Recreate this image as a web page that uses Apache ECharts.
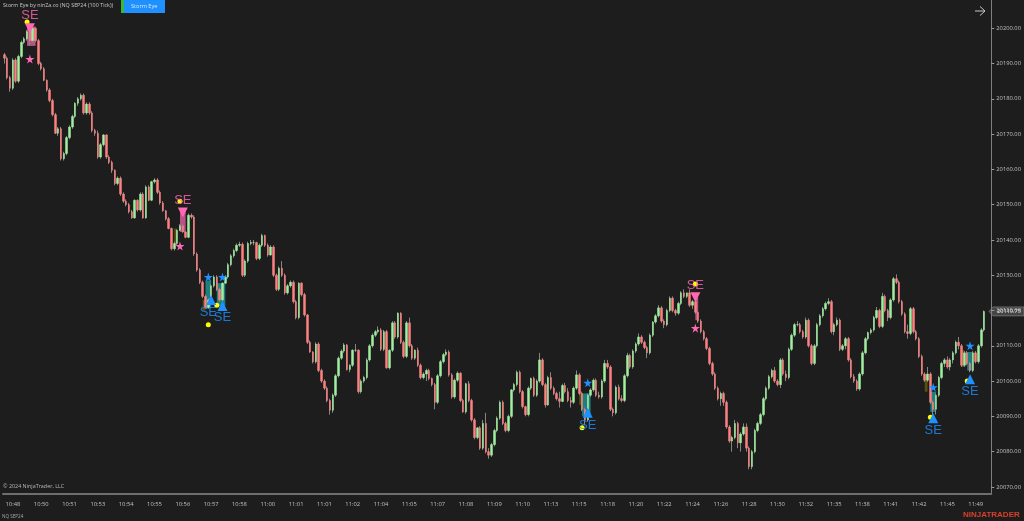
<!DOCTYPE html>
<html>
<head>
<meta charset="utf-8">
<script src="https://cdn.jsdelivr.net/npm/echarts@6/dist/echarts.min.js"></script>
<style>
  html, body { margin: 0; padding: 0; background: #1d1d1d; }
  #chart { width: 1024px; height: 521px; }
</style>
</head>
<body>
<div id="chart"></div>
<script>
// prices are stored minus 20000, one row = 10 bars (one time label)
const priceBase = 20000;

const opens = [
  192.5,191.5,186,183,191,185,192,196,197,199,
  196.5,200,196.5,190,188.5,185.25,182.5,179.5,175.5,170.25,
  171.5,163,164.5,169,172,175,178.75,180,181,176,
  178.5,176,171,170.25,163.5,167,169.75,163.5,162,159.75,
  156,157.5,153,151,150,148,146.25,151.25,148.5,153,
  146.25,155,151.25,156.5,157,153.5,150.5,148.25,146,143.25,
  137.5,139,142.75,144,142.25,140.75,147,146.5,136,131.5,
  128,124,120.75,123,127,129.5,126,123,127.75,129.5,
  133,135.5,137,138.5,138.75,130,134,139,139.25,139.25,
  134.75,138.5,141.25,138.5,135.75,138,130,126,132,130,
  125,127,128,122.5,118,127.75,124.5,118.75,111,108.25,
  105.5,110.5,103,100,98,94.5,91.75,96,101.5,106.5,
  108.5,110.25,103.25,104.5,108.75,108.75,97,100,101,106,
  110,113,114,114.5,109,114,103.75,108.75,116.5,112.5,
  119.25,111,107,116.5,110,106.5,108.75,104.5,101,102,
  103,100.75,99,94,101.5,105.5,107.5,108.25,101.75,95.5,
  100.25,102.25,94.5,91.25,99.25,94.5,89,84,86.75,81,
  88,80,79,82,86,89.5,94,88,86,90,
  97.5,99,102.5,97,92.75,90.5,98,100.75,96,100,
  106,99,93.25,101,98,96.5,95,94.25,98.75,97,
  94.5,94,98,101.75,96.5,92,89,96,97.5,100.25,
  96,95.5,100,105,104,92,91,98.25,95,94.5,
  101.5,107.25,104,108.5,110.5,112.5,111,109.5,108,113,
  116.75,118.5,120.75,117,116,120,123.5,120,119.25,122,
  125,124,125,121.5,122.5,119.5,117,114,112,109.25,
  105,102,98,95,96.5,94,87,83,84,88,
  82.5,85,87,81,75.75,80,86,88,90.5,95,
  98,101.25,103,100,99,106,102,101,109,113,
  116,116,114,112.5,117.25,110,105,110,116,118.5,
  120.5,122,122.5,114,116,117.25,109,110,112,106,
  101.25,100,97.75,102,108,112,113.75,114.5,118,120,
  115.5,124,120,118,123,129,128,122.5,119,114,
  113.5,120.5,114,112,107,102,100.25,102,94,92,
  96,101,105,106,104,106,108,111,110,104.5,
  108,105,103,108,105.5,110,114.5
];
const closes = [
  191.5,186,183,191,185,192,196,197,199,196.5,
  200,196.5,190,188.5,185.25,182.5,179.5,175.5,170.25,171.5,
  163,164.5,169,172,175,178.75,180,181,176,178.5,
  176,171,170.25,163.5,167,169.75,163.5,162,159.75,156,
  157.5,153,151,150,148,146.25,151.25,148.5,153,146.25,
  155,151.25,156.5,157,153.5,150.5,148.25,146,143.25,137.5,
  139,142.75,144,142.25,140.75,147,146.5,136,131.5,128,
  124,120.75,123,127,129.5,126,123,127.75,129.5,133,
  135.5,137,138.5,138.75,130,134,139,139.25,139.25,134.75,
  138.5,141.25,138.5,135.75,138,130,126,132,130,125,
  127,128,122.5,118,127.75,124.5,118.75,111,108.25,105.5,
  110.5,103,100,98,94.5,91.75,96,101.5,106.5,108.5,
  110.25,103.25,104.5,108.75,108.75,97,100,101,106,110,
  113,114,114.5,109,114,103.75,108.75,116.5,112.5,119.25,
  111,107,116.5,110,106.5,108.75,104.5,101,102,103,
  100.75,99,94,101.5,105.5,107.5,108.25,101.75,95.5,100.25,
  102.25,94.5,91.25,99.25,94.5,89,84,86.75,81,88,
  80,79,82,86,89.5,94,88,86,90,97.5,
  99,102.5,97,92.75,90.5,98,100.75,96,100,106,
  99,93.25,101,98,96.5,95,94.25,98.75,97,94.5,
  94,98,101.75,96.5,92,89,96,97.5,100.25,96,
  95.5,100,105,104,92,91,98.25,95,94.5,101.5,
  107.25,104,108.5,110.5,112.5,111,109.5,108,113,116.75,
  118.5,120.75,117,116,120,123.5,120,119.25,122,125,
  124,125,121.5,122.5,119.5,117,114,112,109.25,105,
  102,98,95,96.5,94,87,83,84,88,82.5,
  85,87,81,75.75,80,86,88,90.5,95,98,
  101.25,103,100,99,106,102,101,109,113,116,
  116,114,112.5,117.25,110,105,110,116,118.5,120.5,
  122,122.5,114,116,117.25,109,110,112,106,101.25,
  100,97.75,102,108,112,113.75,114.5,118,120,115.5,
  124,120,118,123,129,128,122.5,119,114,113.5,
  120.5,114,112,107,102,100.25,102,94,92,96,
  101,105,106,104,106,108,111,110,104.5,108,
  105,103,108,105.5,110,114.5,119.75
];
const highs = [
  193,192,186.5,191.5,191.5,192.5,196.5,197.5,199.5,199.5,
  200.5,200.25,197,190.5,189,185.5,183,180,176,172,
  172,165,169.5,172.5,175.5,179,180.5,181.5,181.5,179,
  179,176.5,171.5,171,167.5,170,170,164,162.5,160,
  158,158,153.5,151.5,150.5,148.5,151.5,151.5,153.5,153.5,
  155.5,155.5,156.75,157.5,157.5,154,151,148.5,146.5,143.5,
  139.5,143,144.5,144.5,142.5,147.5,147.5,147,136.5,132,
  128.5,124.5,123.5,127.5,130,130,126.5,128,130,133.5,
  136,137.5,139,139.5,139.25,134.5,139.5,140,140,139.5,
  139,141.75,141.5,139,138.5,138.5,130.5,132.5,134,130.5,
  127.5,128.5,128.5,123,128,128,125,119,111.5,108.5,
  111,111,103.5,100.5,98.5,95,96.5,102,107,109,
  110.75,110.5,104.75,109,110.5,109,100.5,101.5,106.5,110.5,
  113.5,114.5,115.5,115,114.5,114.5,109,117,117,119.5,
  119.5,111.5,117,118,110.5,109,109.5,105,102.5,103.5,
  103.5,101,99.5,102,106,108,109,108.75,102.25,100.75,
  102.75,102.5,95,99.5,100,95,89.5,87,87.25,89,
  91,81,82.5,86.5,90,94.5,94.5,88.5,90.5,97.75,
  99.5,103,103,97.5,93,98.5,101,101.25,100.5,108,
  106.5,99.5,101.5,102.5,98.5,97,97,99.25,99.5,98,
  95.5,98.5,103,102.25,97,92.5,96.5,98,100.75,100.75,
  97,100.5,106,106,104.5,92.5,98.75,99,96,102,
  108,107.75,109,111,113.5,113,111.5,110,113.5,117,
  119,121.5,121.25,117.5,120.5,124,124,120.5,122.5,125.5,
  126,125,126,123,123,120,117.5,114.5,112.5,109.75,
  105.5,102.5,98.5,97,97,94.5,87.5,84.5,89,88.5,
  85.5,88,88,81.5,80.5,86.5,88.5,91,95.5,98.5,
  101.75,103.5,104,100.5,106.5,106.5,103,109.5,113.5,116.5,
  117,116.5,114.5,118,117.75,110.5,110.5,116.5,119,121,
  122.5,123.5,123,116.5,118,117.75,110.5,112.5,112.5,106.5,
  102,100.5,102.5,108.5,112.5,114,115,118.5,121,120.5,
  125,124.5,120.5,123.5,129.5,130.25,128.5,123,119.5,116,
  121,121,114.5,112.5,107.5,102.5,104,102.5,94.5,96.5,
  101.5,105.5,106.5,107,106.5,108.5,111.5,112.5,110.5,108.5,
  108.5,105.5,108.5,108.5,110.5,115,120
];
const lows = [
  190,185.5,182,182.5,184.5,184.5,191.5,195.5,196.5,195,
  196,196,189.5,188,185,182,179,175,170,169.5,
  162.5,162.5,164,168.5,171.5,174.5,178,179.5,175.5,175.5,
  175.5,170.5,169.5,163,163,166.5,163,161.5,159,155.5,
  155.5,152.5,150.5,149.5,147.5,146,146,148,148,146,
  146,151,151,156,153,150,148,145.5,143,137,
  137,138.5,142.5,142,140.5,140.5,146,135.5,131,127.5,
  123.5,120.5,120.5,122.5,126.5,125.5,122.5,122.5,127.5,129,
  132.5,135,136.5,138,129.5,129.5,133.5,138.5,138.5,134.25,
  134.25,138,138,135.25,135.5,129.5,125.5,125.5,129.5,124.5,
  124.5,126.5,122,117.5,117.5,124,118.25,110.5,108,105,
  105,102.5,99.5,97.5,94,90.5,91,95.5,101,106,
  108,103,102.5,104,108.25,96.5,96.5,99.5,100.5,105.5,
  109.5,112.5,113.5,108.5,108.5,103.5,103.25,108.25,112,112,
  110.5,106.5,106.5,109.5,106,106,104,100.5,100.5,100,
  100.25,98.5,92,93.5,101,105,107,101.25,95,95,
  99.75,94,91,90.75,94,88.5,83.5,83.5,80.5,80.5,
  79.5,78,78.5,81.5,85.5,89,87.5,85.5,85.5,89.5,
  97,98.5,96.5,92.25,90,90,97.5,95.5,95.5,99.5,
  98.5,92.5,93,97.5,96,94.5,92.5,94,96.5,94,
  92.5,93.5,97.5,96,91.5,87.5,88.5,95.5,97,95.5,
  95,95,99.5,103.5,91.5,90,90.5,94.5,94,94,
  101,103.5,103.5,108,110,110.5,109,106.5,107.5,112.5,
  116.25,118,116.5,115,115.5,119.5,119.5,118.5,118.75,121.5,
  123.5,123.5,121,120.5,119,116.5,113.5,111.5,108.75,104.5,
  101.5,97.5,94.5,93,93,86.5,82.5,80,83.5,81,
  80,84.5,80,75,75,79.5,85.5,87.5,90,94.5,
  97.5,100.75,99.5,98.5,98,101.5,100,100.5,108.5,112.5,
  115.5,113.5,112,112,109.5,104.5,104.5,109.5,115.5,118,
  120,121.5,113.5,113,115.5,108.5,108.5,109,105.5,100.75,
  99.5,97.25,97.25,101.5,107.5,111.5,113.25,114,117.5,115,
  115,119.5,117,117.5,122.5,127.5,122,118.5,113.5,112,
  113,113.5,111.5,106.5,101.5,99.75,99.75,93.5,89.5,90.5,
  95.5,100.5,104,103.5,103,105,107.5,109,104,104,
  104.5,102.5,102.5,105,105,109.5,114
];

// one label every 10 bars, starting at bar 3
const timeLabels = ['10:48','10:50','10:51','10:53','10:54','10:55','10:56','10:57','10:58','11:00',
  '11:01','11:01','11:02','11:04','11:05','11:07','11:08','11:09','11:10','11:13',
  '11:15','11:18','11:20','11:22','11:24','11:26','11:28','11:30','11:32','11:35',
  '11:38','11:41','11:42','11:45','11:49'];
const priceTicks = [20070,20080,20090,20100,20110,20120,20130,20140,20150,20160,20170,20180,20190,20200];
const lastPrice = 20119.75;

// Storm Eye signals as [bar, price]
const sellTriangles = [[9,200],[63,147.75],[244,123.75]];
const sellStars = [[9,191.25],[62,138.25],[244,115]];
const sellText = [[9,203.5],[63,151.25],[244,127.25]];
const buyTriangles = [[73,123],[77,121.25],[206,91],[328,89.5],[341,100.5]];
const buyStars = [[72,129.5],[77,129.5],[206,99.5],[328,98.25],[341,110]];
const buyText = [[72,119.5],[77,118],[206,87.5],[328,86],[341,97]];
const yellowDots = [[8,201.75],[62,151],[244,127.5],[72,116],[75,121.5],[204,86.75],[327,89.75],[340,100]];

// shaded bands as [first bar, last bar, top price, bottom price]
const pinkBands = [[8,11,200.5,195],[62,64,148.5,142.25],[244,245,123.75,117.25]];
const tealBands = [[71,73,128.5,120.75],[75,78,127.75,121.25],[204,207,96.5,90],[327,329,97,91.25],[340,342,108.25,103]];
const oliveBands = [[70,71,123,120],[60,61,143.25,139],[203,204,96.5,93.25],[325,326,101.75,97],[338,339,108.75,104]];

const barSlots = 349;
const starPath = 'path://M50,0 L61,35 98,35 68,57 79,91 50,70 21,91 32,57 2,35 39,35 Z';
const uiFont = '"Open Sans", sans-serif';
const seFont = '"Liberation Sans", Arial, sans-serif';

let categories = [];
for (let i = 0; i < barSlots; i++) categories.push('');
timeLabels.forEach((t, k) => { categories[3 + k * 10] = t; });

const isLabelled = (index, value) => value !== '';
const withBase = pts => pts.map(p => [p[0], p[1] + priceBase]);

let wickData = opens.map((o, i) => [o + priceBase, closes[i] + priceBase, lows[i] + priceBase, highs[i] + priceBase]);
let bodyData = opens.map((o, i) => {
  let top = Math.max(o, closes[i]), bottom = Math.min(o, closes[i]);
  return [o + priceBase, closes[i] + priceBase, bottom + priceBase, top + priceBase];
});

function bandAreas(bands, color) {
  return bands.map(b => [
    { xAxis: b[0], yAxis: b[2] + priceBase, itemStyle: { color: color } },
    { xAxis: b[1], yAxis: b[3] + priceBase }
  ]);
}

function seLabels(points, color) {
  return {
    type: 'scatter',
    data: withBase(points),
    symbolSize: 1,
    itemStyle: { color: 'transparent' },
    label: {
      show: true, position: 'inside', formatter: 'SE',
      color: color, fontFamily: seFont, fontSize: 13
    },
    z: 7,
    silent: true
  };
}

function marks(points, symbol, size, color, rotate, z) {
  return {
    type: 'scatter',
    data: withBase(points),
    symbol: symbol,
    symbolSize: size,
    symbolRotate: rotate,
    itemStyle: { color: color, opacity: 1 },
    z: z,
    silent: true
  };
}

let chart = echarts.init(document.getElementById('chart'), null, { renderer: 'canvas' });

let option = {
  animation: false,
  backgroundColor: '#1d1d1d',
  grid: { left: 3, top: 0, width: 989, height: 494 },
  xAxis: {
    type: 'category',
    data: categories,
    axisLine: { lineStyle: { color: '#6e6e6e', width: 2 } },
    axisTick: { interval: isLabelled, alignWithLabel: true, length: 3, lineStyle: { color: '#999' } },
    axisLabel: { interval: isLabelled, color: '#c0c0c0', fontFamily: uiFont, fontSize: 5.8, margin: 7 },
    splitLine: { show: false }
  },
  yAxis: {
    type: 'value',
    position: 'right',
    min: 20068,
    max: 20208,
    axisLine: { show: true, lineStyle: { color: '#808080', width: 1 } },
    axisTick: { show: true, customValues: priceTicks, length: 3, lineStyle: { color: '#999' } },
    axisLabel: {
      customValues: priceTicks, color: '#c0c0c0', fontFamily: uiFont, fontSize: 5.8, margin: 5,
      formatter: v => v.toFixed(2)
    },
    splitLine: { show: false }
  },
  series: [
    {
      type: 'candlestick',
      data: wickData,
      barWidth: 1,
      itemStyle: { color: '#858585', color0: '#858585', borderColor: '#858585', borderColor0: '#858585', borderWidth: 1 },
      markArea: {
        silent: true,
        z: 1,
        data: bandAreas(oliveBands, 'rgba(128,128,0,0.55)')
          .concat(bandAreas(pinkBands, 'rgba(255,105,180,0.7)'))
          .concat(bandAreas(tealBands, 'rgba(32,170,170,0.7)'))
      },
      z: 2,
      silent: true
    },
    {
      type: 'candlestick',
      data: bodyData,
      barWidth: 2,
      itemStyle: { color: '#a0f0a0', color0: '#ff8080', borderColor: '#a0f0a0', borderColor0: '#ff8080', borderWidth: 0.5 },
      z: 3,
      silent: true
    },
    marks(yellowDots, 'circle', 5, '#ffff00', 0, 4),
    marks(sellTriangles, 'triangle', 10, '#ff69b4', 180, 5),
    marks(buyTriangles, 'triangle', 10, '#1e90ff', 0, 5),
    marks(sellStars, starPath, 9, '#ff69b4', 0, 6),
    marks(buyStars, starPath, 9, '#1e90ff', 0, 6),
    seLabels(sellText, '#ff69b4'),
    seLabels(buyText, '#1e90ff')
  ],
  graphic: [
    { type: 'text', left: 3, top: 3, style: { text: 'Storm Eye by ninZa.co (NQ SEP24 (100 Tick))', fill: '#c8c8c8', font: '5.4px ' + uiFont } },
    { type: 'rect', shape: { x: 121, y: 0, width: 3, height: 13 }, style: { fill: '#38b838' } },
    { type: 'rect', shape: { x: 124, y: 0, width: 41, height: 13 }, style: { fill: '#1e90ff' } },
    { type: 'text', left: 131, top: 3, style: { text: 'Storm Eye', fill: '#d8e8f8', font: '5.6px ' + uiFont } },
    { type: 'line', shape: { x1: 975, y1: 11, x2: 985, y2: 11 }, style: { stroke: '#c8c8c8', lineWidth: 1 } },
    { type: 'polyline', shape: { points: [[980, 6.5], [985, 11], [980, 15.5]] }, style: { stroke: '#c8c8c8', fill: 'none', lineWidth: 1 } },
    { type: 'text', left: 3, top: 484, style: { text: '\u00a9 2024 NinjaTrader, LLC', fill: '#b8b8b8', font: '5.4px ' + uiFont } },
    { type: 'text', left: 2, top: 514, style: { text: 'NQ SEP24', fill: '#a8a8a8', font: '4.6px ' + uiFont } },
    { type: 'text', left: 963, top: 511, style: { text: 'NINJATRADER', fill: '#d8402c', font: 'bold 8px "Liberation Sans", Arial, sans-serif' } }
  ]
};

chart.setOption(option);

// tag for the last price sits on the y axis
let lastY = chart.convertToPixel({ yAxisIndex: 0 }, lastPrice);
chart.setOption({
  graphic: option.graphic.concat([
    {
      type: 'polygon',
      shape: { points: [[989, lastY], [993, lastY - 4.5], [1024, lastY - 4.5], [1024, lastY + 4.5], [993, lastY + 4.5]] },
      style: { fill: '#454545', stroke: '#8a8a8a', lineWidth: 0.6 }
    },
    {
      type: 'text', left: 997, top: lastY - 3.2,
      style: { text: lastPrice.toFixed(2), fill: '#eeeeee', font: '5.6px ' + uiFont }
    }
  ])
});
</script>
</body>
</html>
